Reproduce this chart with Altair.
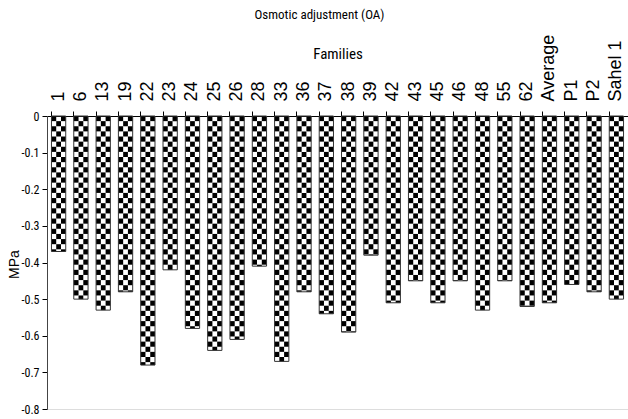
import altair as alt
import pandas as pd

families = ["1", "6", "13", "19", "22", "23", "24", "25", "26", "28", "33", "36", "37",
            "38", "39", "42", "43", "45", "46", "48", "55", "62", "Average", "P1", "P2", "Sahel 1"]
oa_values = [-0.37, -0.50, -0.53, -0.48, -0.68, -0.42, -0.58, -0.64, -0.61, -0.41, -0.67,
             -0.48, -0.54, -0.59, -0.38, -0.51, -0.45, -0.51, -0.45, -0.53, -0.45, -0.52,
             -0.51, -0.46, -0.48, -0.50]
y_ticks = [0, -0.1, -0.2, -0.3, -0.4, -0.5, -0.6, -0.7, -0.8]

bars = pd.DataFrame({"family": families, "value": oa_values})

# checkerboard fill pattern cells (derived from the bar values)
ROW = 0.014
NCOL = 3
cells = []
for fam, val in zip(families, oa_values):
    r = 0
    while -r * ROW > val + 1e-9:
        top = -r * ROW
        bot = max(-(r + 1) * ROW, val)
        for c in range(NCOL):
            if (r + c) % 2 == 0:
                cells.append({"family": fam, "col": c, "top": top, "bot": bot})
        r += 1
cells = pd.DataFrame(cells)

narrow = "Liberation Sans Narrow, Arial Narrow, Roboto Condensed, DejaVu Sans Condensed, sans-serif"
wide = "Liberation Sans, Arial, sans-serif"

xenc = alt.X(
    "family:N",
    sort=families,
    scale=alt.Scale(paddingInner=0.36, paddingOuter=0.2),
    axis=alt.Axis(
        orient="top", labelAngle=270, labelAlign="left", labelBaseline="middle",
        labelPadding=10, tickSize=5, bandPosition=0, labelFont=wide, labelFontSize=18,
        labelColor="black", domainColor="black", tickColor="black",
        title="Families", titleFont=narrow, titleFontSize=15, titleFontWeight="normal",
        titleY=-63, titleBaseline="middle", titleColor="black",
    ),
)
yscale = alt.Scale(domain=[-0.8, 0], nice=False, zero=False)
yaxis = alt.Axis(
    values=y_ticks, labelExpr="datum.value == 0 ? '0' : '-' + format(-datum.value, '.1f')",
    grid=False, tickSize=5, labelPadding=3, labelFont=narrow, labelFontSize=12,
    labelColor="black", domainColor="#444", tickColor="black",
    title="MPa", titleFont=wide, titleFontSize=14, titleFontWeight="normal",
    titleAngle=270, titleX=-33, titleY=148, titleBaseline="middle", titleAlign="center",
    titleColor="black",
)

checker = alt.Chart(cells).mark_bar(color="black", stroke=None).encode(
    x=xenc,
    xOffset=alt.XOffset("col:O", scale=alt.Scale(paddingInner=0, paddingOuter=0)),
    y=alt.Y("top:Q", scale=yscale, axis=yaxis),
    y2="bot:Q",
)

outline = alt.Chart(bars).mark_bar(fillOpacity=0, stroke="#333", strokeWidth=1).encode(
    x=xenc,
    y=alt.Y("value:Q", scale=yscale, axis=yaxis),
    y2=alt.datum(0),
)

chart = alt.layer(checker, outline).properties(
    width=581, height=293,
    autosize=alt.AutoSizeParams(type="none"),
    padding={"left": 47, "top": 116, "right": 0, "bottom": 10},
    title=alt.TitleParams(
        "Osmotic adjustment (OA)", font=narrow, fontSize=13, fontWeight="normal",
        anchor="middle", frame="group", dx=-18, offset=12, color="black",
    ),
).configure_view(stroke=None).configure(background="white")

chart.save("out.html", embed_options={"renderer": "svg", "actions": False})
